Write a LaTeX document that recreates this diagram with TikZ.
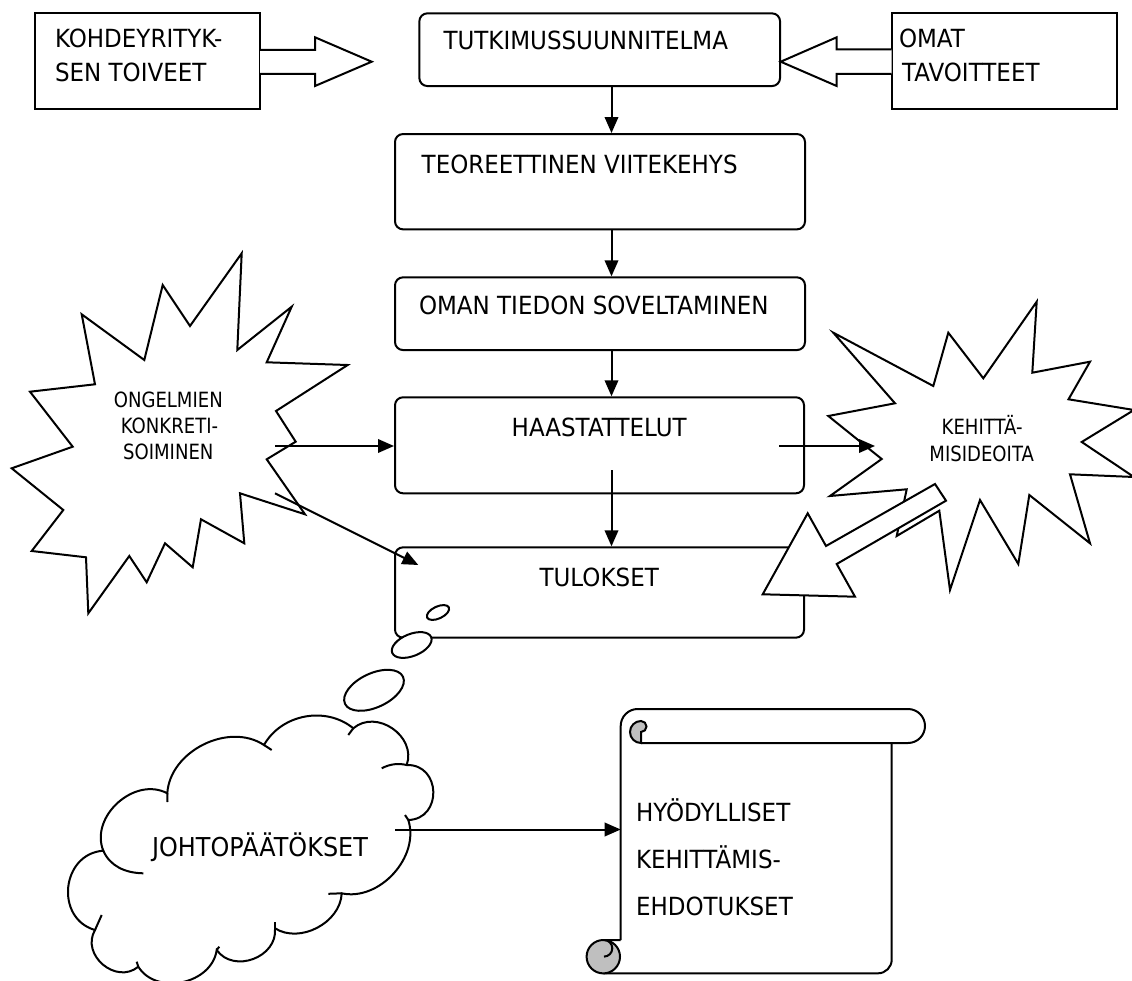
\documentclass[tikz,border=0pt]{standalone}
\usepackage{fontspec}
\setmainfont{DejaVu Sans}[FakeStretch=0.92]
\newfontfamily\burstfont{DejaVu Sans}[FakeStretch=0.86]
\usetikzlibrary{arrows.meta,shapes.geometric}

\begin{document}
\begin{tikzpicture}[x=1pt,y=-1pt,
  line width=2pt, line join=miter,
  rbox/.style={draw, rounded corners=8pt, inner sep=0pt},
  sqbox/.style={draw, inner sep=0pt},
  lbl/.style={inner sep=0pt, anchor=base west, font=\fontsize{25}{30}\selectfont},
  clbl/.style={inner sep=0pt, anchor=base, font=\fontsize{25}{30}\selectfont},
  blbl/.style={inner sep=0pt, anchor=base, font=\burstfont\fontsize{21}{25}\selectfont},
  arr/.style={-{Triangle[length=16pt,width=13.5pt]}},
  blockarrow/.style={draw, fill=white},
  burst/.style={draw, fill=white},
  bubble/.style={draw, fill=white, ellipse, inner sep=0pt},
  curl/.style={draw, fill=black!25}
]
\useasboundingbox (0,0) rectangle (1132,981);
\fill[white] (0,0) rectangle (1132,981);
\clip (0,0) rectangle (1132,981);

% ---- top row ----
\node[sqbox, minimum width=225pt, minimum height=96pt] (kohde) at (147.5,61.3) {};
\node[lbl] (k1) at (54,48) {KOHDEYRITYK-};
\node[lbl] (k2) at (54,82) {SEN TOIVEET};

\node[sqbox, minimum width=225.3pt, minimum height=96pt] (omat) at (1004.3,61.3) {};
\node[lbl] (o1) at (898,48) {OMAT};
\node[lbl] (o2) at (901,82) {TAVOITTEET};

\node[rbox, minimum width=360.7pt, minimum height=72.7pt] (tut) at (599.7,49.7) {};
\node[lbl] (t1) at (442.5,50) {TUTKIMUSSUUNNITELMA};

% block arrows into the plan
\filldraw[blockarrow] (260,50) -- (315,50) -- (315,37.3) -- (371.7,61.7)
  -- (315,86) -- (315,74) -- (260,74);
\filldraw[blockarrow] (891.7,49.3) -- (836.7,49.3) -- (836.7,37.3) -- (780.7,61.7)
  -- (836.7,86) -- (836.7,74) -- (891.7,74);

% ---- main column ----
\node[rbox, minimum width=410pt, minimum height=95.3pt] (teo) at (600,181.7) {};
\node[lbl] (teot) at (420.7,173.3) {TEOREETTINEN VIITEKEHYS};

\node[rbox, minimum width=410pt, minimum height=72.7pt] (oman) at (600,313.7) {};
\node[lbl] (omant) at (418,315) {OMAN TIEDON SOVELTAMINEN};

\node[rbox, minimum width=409pt, minimum height=96pt] (haas) at (599.5,445.3) {};
\node[clbl] (haast) at (599.2,436.7) {HAASTATTELUT};

\node[rbox, minimum width=409pt, minimum height=90.3pt] (tul) at (599.5,592.5) {};
\node[clbl] (tult) at (599.2,586.7) {TULOKSET};

% thought bubbles
\node[bubble, minimum width=24pt, minimum height=12pt, rotate=25] (b1) at (438,612.5) {};
\node[bubble, minimum width=42pt, minimum height=22pt, rotate=22] (b2) at (411.7,645) {};
\node[bubble, minimum width=64pt, minimum height=34pt, rotate=25] (b3) at (374,690.3) {};

% ---- left starburst ----
\draw[burst] (241.7,253.3) -- (237.3,350) -- (291.7,306.7) -- (266.7,362.3)
  -- (347.7,365) -- (276,411) -- (295.7,441.7) -- (266.7,459.3) -- (305,514.3)
  -- (240,493.3) -- (244.3,543.3) -- (201,519.3) -- (192.7,567.3) -- (165,543.3)
  -- (146.7,582.3) -- (129.3,556) -- (88.3,613.3) -- (86,557.3) -- (31.7,551)
  -- (63.3,510) -- (11.7,468.3) -- (72.7,446.7) -- (30,391.7) -- (95,384.3)
  -- (81.7,314.3) -- (144.3,360) -- (162.7,285) -- (190,326) -- cycle;
\node[blbl] (ong1) at (168.3,407.7) {ONGELMIEN};
\node[blbl] (ong2) at (169.5,433.3) {KONKRETI-};
\node[blbl] (ong3) at (168.3,459.3) {SOIMINEN};

% ---- right starburst ----
\draw[burst] (1036.7,301.7) -- (1032.3,372.7) -- (1090,361.7) -- (1068.5,399.3)
  -- (1134,410) -- (1081.7,442) -- (1134,477) -- (1070,474.3) -- (1090,543.3)
  -- (1029.3,495) -- (1018.3,564) -- (980,500) -- (950,590) -- (939.3,510.7)
  -- (896.7,536) -- (906.7,489.3) -- (830,496) -- (881.7,459) -- (828.3,416)
  -- (895,403.3) -- (833.3,332.7) -- (933.3,386) -- (948.3,332.7)
  -- (983.3,378.3) -- cycle;
\node[blbl] (keh1) at (982.2,434) {KEHITTÄ-};
\node[blbl] (keh2) at (981.7,461.7) {MISIDEOITA};

% block arrow from the ideas back to the results
\filldraw[blockarrow] (935,484) -- (826,546) -- (807.7,513.3) -- (762.7,594.3)
  -- (855,596.7) -- (836.7,564) -- (946,500.7) -- cycle;

% ---- cloud ----
\coordinate (cA) at (167.3,793.3);
\coordinate (cB) at (264,745);
\coordinate (cC) at (353.3,728.3);
\coordinate (cD) at (406.7,765);
\coordinate (cE) at (408.3,820);
\coordinate (cF) at (341.7,893.3);
\coordinate (cG) at (275,928.3);
\coordinate (cH) at (216.7,950);
\coordinate (cI) at (138.3,966.7);
\coordinate (cJ) at (95,930);
\coordinate (cK) at (103.3,850.7);
\filldraw[fill=white] (cA) to[bend left=60] (cB) to[bend left=50] (cC)
  to[bend left=75, looseness=1.2] (cD) to[bend left=90, looseness=1.6] (cE)
  to[bend left=60] (cF) to[bend left=60] (cG) to[bend left=75, looseness=1.2] (cH)
  to[bend left=70, looseness=1.1] (cI) to[bend left=80, looseness=1.3] (cJ)
  to[bend left=80, looseness=1.35] (cK) to[bend left=70, looseness=1.1] (cA) -- cycle;
\draw (cA) -- (167.5,802);
\draw (cB) -- (271.7,750);
\draw (cC) -- (348.3,735);
\draw (cD) .. controls (398,763) and (390,764) .. (381.7,768.3);
\draw (cE) -- (405,815);
\draw (cF) -- (328.3,893.8);
\draw (cG) -- (275,921.7);
\draw (cH) -- (219.3,946.7);
\draw (cI) -- (136.7,961.7);
\draw (cJ) -- (101.7,915);
\draw (cK) .. controls (110,866) and (125,873) .. (143.3,873.3);
\node[inner sep=0pt, anchor=base, font=\fontsize{26}{30}\selectfont] (jo) at (260,856) {JOHTOPÄÄTÖKSET};

% ---- scroll ----
\draw (620.7,940) -- (620.7,726) arc[start angle=180, end angle=270, radius=17]
  -- (908,709) arc[start angle=270, end angle=450, radius=17] -- (641,743);
\filldraw[curl] (641,743) arc[start angle=90, end angle=270, radius=11]
  arc[start angle=270, end angle=450, radius=5.5] -- cycle;
\draw (603.3,973.3) -- (878,973.3) arc[start angle=90, end angle=0, radius=13.7]
  -- (891.7,743);
\filldraw[curl] (603.3,956.7) circle[radius=16.7];
\draw (620.7,940) -- (604,940) arc[start angle=270, end angle=450, radius=8.3];
\coordinate (scl) at (620.7,830);
\node[lbl] (s1) at (635,821.7) {HYÖDYLLISET};
\node[lbl] (s2) at (635,868.3) {KEHITTÄMIS-};
\node[lbl] (s3) at (635,915) {EHDOTUKSET};

% ---- connectors ----
\draw[arr] (tut.south -| 611.5,0) -- (teo.north -| 611.5,0);
\draw[arr] (teo.south -| 611.5,0) -- (oman.north -| 611.5,0);
\draw[arr] (oman.south -| 611.5,0) -- (haas.north -| 611.5,0);
\coordinate (hs) at (611.5,470);
\draw[arr] (hs) -- (hs |- tul.north);

\coordinate (ongout) at (275,446);
\draw[arr] (ongout) -- (ongout -| haas.west);
\coordinate (ongdiag) at (275,493.3);
\coordinate (tulin) at (418.3,565);
\draw[arr] (ongdiag) -- (tulin);
\coordinate (hout) at (779,446);
\coordinate (kehin) at (875,446);
\draw[arr] (hout) -- (kehin);
\coordinate (joout) at (395,829.5);
\draw[arr] (joout) -- (joout -| scl);
\end{tikzpicture}
\end{document}
